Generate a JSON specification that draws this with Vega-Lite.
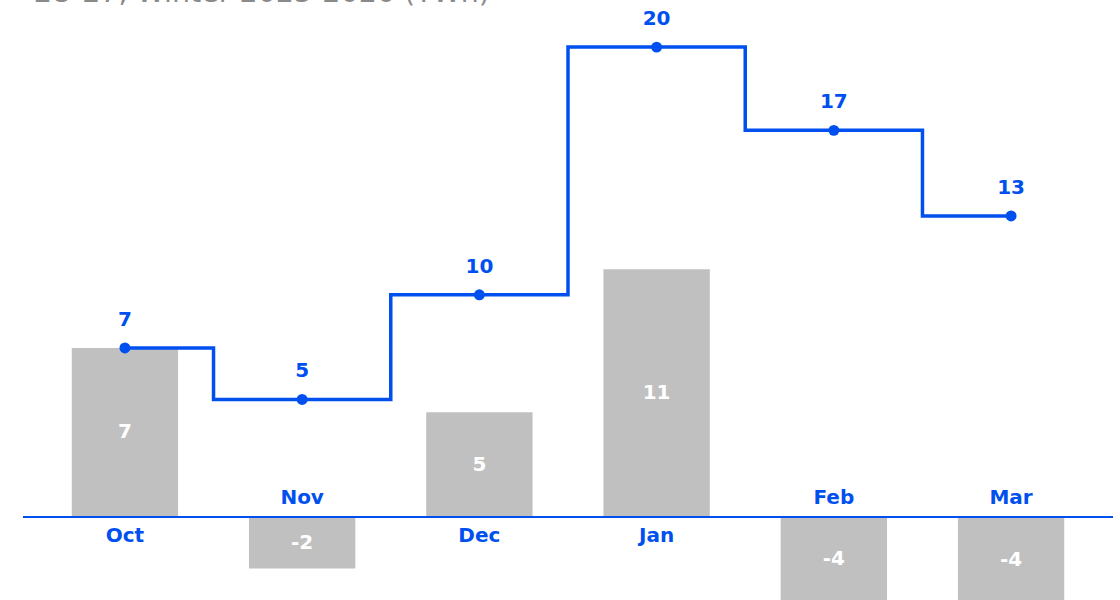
{
  "$schema": "https://vega.github.io/schema/vega-lite/v6.json",
  "autosize": {"type": "none"},
  "width": 1090,
  "height": 566,
  "padding": {"left": 23, "top": 34, "right": 7, "bottom": 0},
  "background": "white",
  "title": {
    "text": "EU-27, Winter 2025-2026 (TWh)",
    "anchor": "start",
    "frame": "group",
    "font": "DejaVu Sans",
    "fontSize": 28.5,
    "fontWeight": "normal",
    "color": "#8a8a8a",
    "baseline": "alphabetic",
    "offset": 0,
    "dx": 10,
    "dy": 21
  },
  "data": {
    "values": [
      {"month": "Oct", "change": 7.35, "cumulative": 7.35},
      {"month": "Nov", "change": -2.24, "cumulative": 5.11},
      {"month": "Dec", "change": 4.55, "cumulative": 9.66},
      {"month": "Jan", "change": 10.77, "cumulative": 20.43},
      {"month": "Feb", "change": -3.62, "cumulative": 16.81},
      {"month": "Mar", "change": -3.72, "cumulative": 13.09}
    ]
  },
  "encoding": {
    "x": {
      "field": "month",
      "type": "nominal",
      "sort": null,
      "axis": null,
      "scale": {"paddingInner": 0.4, "paddingOuter": 0.275}
    }
  },
  "layer": [
    {
      "mark": {"type": "bar", "color": "#c0c0c0", "clip": true},
      "encoding": {
        "y": {
          "field": "change",
          "type": "quantitative",
          "axis": null,
          "scale": {"domain": [-3.6087, 21], "nice": false, "zero": false}
        }
      }
    },
    {
      "mark": {"type": "rule", "color": "#0050f0", "strokeWidth": 2},
      "encoding": {"x": null, "y": {"datum": 0, "type": "quantitative"}}
    },
    {
      "mark": {"type": "line", "interpolate": "step", "color": "#0050f0", "strokeWidth": 3.5},
      "encoding": {"y": {"field": "cumulative", "type": "quantitative"}}
    },
    {
      "mark": {"type": "point", "filled": true, "opacity": 1, "size": 120, "color": "#0050f0"},
      "encoding": {"y": {"field": "cumulative", "type": "quantitative"}}
    },
    {
      "mark": {"type": "text", "font": "DejaVu Sans", "fontSize": 20, "fontWeight": "bold", "color": "#0050f0", "baseline": "middle", "dy": -28},
      "encoding": {
        "y": {"field": "cumulative", "type": "quantitative"},
        "text": {"field": "cumulative", "type": "quantitative", "format": ".0f"}
      }
    },
    {
      "transform": [{"calculate": "datum.change / 2", "as": "mid"}],
      "mark": {"type": "text", "font": "DejaVu Sans", "fontSize": 20, "fontWeight": "bold", "color": "white", "baseline": "middle"},
      "encoding": {
        "y": {"field": "mid", "type": "quantitative"},
        "text": {"field": "change", "type": "quantitative", "format": ".0f"}
      }
    },
    {
      "transform": [{"filter": "datum.change >= 0"}],
      "mark": {"type": "text", "font": "DejaVu Sans", "fontSize": 20, "fontWeight": "bold", "color": "#0050f0", "baseline": "middle", "dy": 19},
      "encoding": {
        "y": {"datum": 0, "type": "quantitative"},
        "text": {"field": "month"}
      }
    },
    {
      "transform": [{"filter": "datum.change < 0"}],
      "mark": {"type": "text", "font": "DejaVu Sans", "fontSize": 20, "fontWeight": "bold", "color": "#0050f0", "baseline": "middle", "dy": -19},
      "encoding": {
        "y": {"datum": 0, "type": "quantitative"},
        "text": {"field": "month"}
      }
    }
  ],
  "config": {
    "view": {"stroke": null},
    "locale": {
      "number": {"decimal": ".", "thousands": ",", "grouping": [3], "currency": ["", ""], "minus": "-"}
    }
  }
}
